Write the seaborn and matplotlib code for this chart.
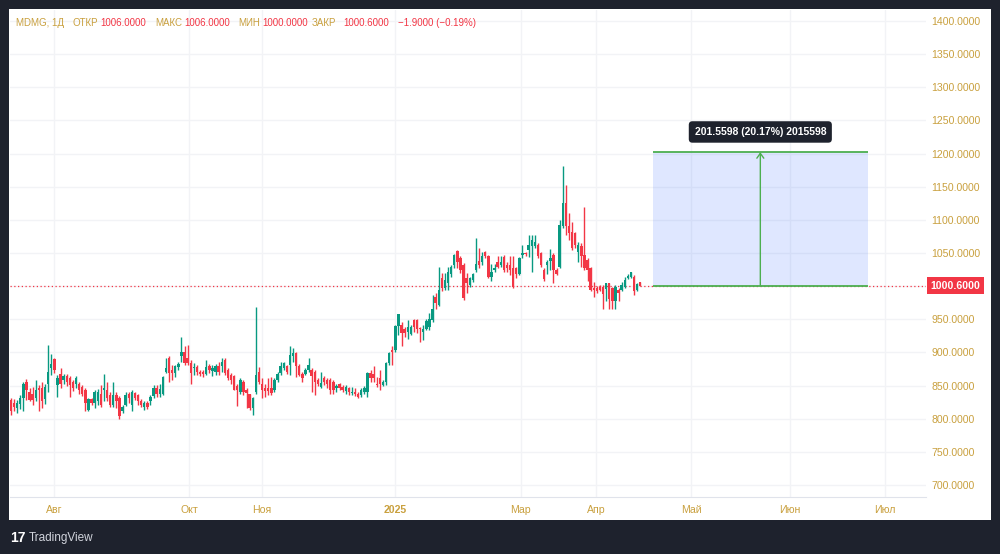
#-*- coding:utf-8 -*-

import seaborn as sns
import matplotlib.pyplot as plt
import matplotlib.ticker as ticker
from matplotlib.patches import Rectangle
import numpy as np
import pandas as pd


# daily candles MDMG (oldest first)
opens = [
    828, 823, 816, 822, 831, 856, 841, 838, 831, 846, 846, 829, 853, 876, 890, 851, 867, 859, 865, 861,
    856, 852, 852, 848, 843, 813, 829, 823, 826, 837, 843, 843, 836, 821, 836, 831, 811, 821, 838, 821,
    839, 836, 826, 817, 824, 826, 834, 847, 838, 838, 871, 891, 874, 869, 878, 894, 901, 891, 884, 876,
    878, 870, 870, 868, 879, 872, 871, 879, 879, 889, 874, 866, 864, 849, 841, 856, 844, 837, 816, 841,
    871, 853, 847, 846, 846, 844, 859, 869, 876, 879, 881, 894, 899, 879, 868, 868, 873, 873, 871, 858,
    848, 861, 859, 858, 856, 846, 852, 848, 842, 846, 839, 841, 838, 836, 841, 841, 869, 868, 853, 861,
    851, 856, 884, 904, 904, 940, 941, 936, 931, 928, 949, 949, 937, 931, 936, 938, 949, 984,
    972, 1012, 997, 1004, 1019, 1032, 1053, 1043, 1032, 1012, 1002, 1009, 1024, 1038, 1036, 1051, 1046, 1014,
    1024, 1037, 1032, 1044, 1032, 1032, 1027, 1027, 1019, 1047, 1050, 1055, 1060, 1060, 1062,
    1050, 1024, 1032, 1038, 1047, 1024, 1029, 1090, 1126, 1090, 1082, 1080, 1052, 1060, 1047, 1039, 1027,
    997, 997, 999, 999, 996, 1004, 997, 977, 994, 994, 999, 1012, 1014, 1014, 994, 1006,
]
highs = [
    831, 830, 828, 836, 856, 860, 846, 848, 858, 851, 856, 852, 911, 898, 891, 866, 876, 868, 868, 864,
    858, 864, 856, 851, 846, 832, 832, 844, 845, 851, 868, 856, 841, 856, 840, 834, 821, 840, 841, 843,
    841, 838, 829, 826, 826, 836, 851, 851, 853, 864, 891, 894, 881, 881, 886, 923, 909, 911, 889, 884,
    881, 874, 873, 888, 883, 881, 882, 886, 891, 891, 876, 869, 866, 853, 861, 859, 846, 838, 833, 969,
    878, 861, 853, 861, 863, 861, 871, 886, 886, 881, 909, 906, 900, 883, 871, 876, 891, 876, 873, 861,
    871, 864, 861, 861, 859, 853, 854, 851, 851, 848, 848, 846, 841, 847, 850, 871, 873, 879, 863, 874,
    859, 886, 901, 909, 942, 958, 946, 939, 949, 941, 950, 951, 939, 941, 951, 959, 987, 989,
    1029, 1020, 1020, 1029, 1032, 1048, 1055, 1045, 1035, 1020, 1014, 1020, 1072, 1057, 1051, 1053, 1047, 1034,
    1034, 1045, 1045, 1047, 1036, 1045, 1045, 1029, 1044, 1062, 1052, 1077, 1077, 1077, 1065,
    1052, 1027, 1039, 1056, 1050, 1027, 1100, 1181, 1153, 1110, 1097, 1081, 1066, 1065, 1120, 1042, 1029,
    1007, 1000, 1002, 1002, 1005, 1004, 999, 1002, 997, 1007, 1014, 1019, 1021, 1017, 1004, 1006,
]
lows = [
    806, 812, 808, 815, 811, 828, 826, 821, 826, 811, 816, 822, 841, 866, 869, 833, 846, 852, 850, 833,
    842, 846, 838, 834, 811, 811, 820, 816, 820, 818, 826, 826, 818, 818, 816, 800, 809, 819, 823, 811,
    828, 820, 818, 813, 814, 821, 831, 833, 833, 836, 869, 856, 858, 863, 874, 886, 881, 881, 853, 866,
    866, 864, 863, 866, 869, 864, 866, 866, 871, 866, 858, 853, 843, 819, 838, 836, 816, 813, 806, 838,
    853, 831, 833, 836, 836, 841, 856, 866, 873, 868, 866, 886, 863, 864, 856, 866, 871, 841, 836, 849,
    846, 851, 846, 838, 838, 841, 843, 840, 838, 836, 836, 834, 831, 833, 838, 833, 856, 856, 848, 843,
    849, 851, 881, 881, 901, 926, 909, 924, 921, 926, 931, 930, 916, 919, 934, 934, 946, 966,
    970, 992, 994, 994, 1014, 1027, 1027, 1020, 979, 990, 999, 1007, 1022, 1027, 1032, 1042, 1012, 1008,
    1022, 1027, 1029, 1022, 1022, 1017, 997, 1012, 1017, 1042, 1045, 1044, 1022, 1057, 1042,
    1029, 1008, 1019, 1024, 1004, 1017, 1027, 1087, 1077, 1070, 1055, 1057, 1037, 1029, 1024, 1008, 992,
    984, 989, 992, 966, 977, 966, 966, 966, 977, 992, 997, 1011, 1012, 987, 992, 1000,
]
closes = [
    812, 818, 823, 831, 853, 844, 828, 828, 843, 844, 826, 848, 871, 883, 873, 861, 853, 864, 856, 851,
    847, 862, 843, 838, 823, 829, 823, 840, 841, 821, 847, 831, 820, 836, 826, 804, 817, 836, 831, 841,
    831, 826, 821, 824, 817, 833, 847, 838, 845, 863, 877, 869, 869, 879, 883, 901, 884, 884, 869, 878,
    871, 868, 868, 878, 873, 876, 879, 871, 886, 869, 861, 858, 844, 844, 858, 841, 839, 816, 831, 866,
    856, 843, 842, 842, 839, 859, 868, 879, 884, 871, 896, 899, 879, 866, 861, 873, 881, 864, 856, 853,
    854, 856, 853, 843, 843, 849, 846, 843, 848, 840, 841, 837, 833, 843, 846, 869, 862, 861, 851, 853,
    856, 884, 899, 901, 940, 958, 929, 929, 938, 938, 938, 936, 935, 936, 948, 951, 966, 974,
    994, 997, 1009, 1022, 1029, 1047, 1037, 1024, 982, 1004, 1012, 1018, 1033, 1032, 1046, 1046, 1014, 1022,
    1027, 1029, 1037, 1024, 1027, 1024, 999, 1019, 1042, 1050, 1048, 1062, 1070, 1067, 1045,
    1032, 1011, 1037, 1043, 1024, 1019, 1093, 1126, 1090, 1080, 1057, 1062, 1062, 1045, 1027, 1024, 994,
    994, 992, 994, 988, 1004, 981, 977, 999, 989, 1002, 1009, 1016, 1021, 992, 1002.5, 1000.6,
]

# x axis: bar index of each month start, future part continues in calendar days
month_labels = ['Авг', 'Окт', 'Ноя', '2025', 'Мар', 'Апр', 'Май', 'Июн', 'Июл']
month_bars = [13.9, 57.4, 81.0, 123.9, 164.5, 188.7, 219.4, 251.3, 281.9]
price_ticks = list(range(700, 1401, 50))

# price range ruler
measure_from, measure_to = 207.0, 276.5
measure_low, measure_high = 1000.6, 1202.16
measure_text = '201.5598 (20.17%) 2015598'

GREEN = '#089981'
RED = '#f23645'
GOLD = '#c9a03e'
FRAME = '#1e222d'
GRID = '#f2f3f6'

df = pd.DataFrame({'open': opens, 'high': highs, 'low': lows, 'close': closes})
df['bar'] = np.arange(len(df))
df['color'] = np.where(df['close'] >= df['open'], GREEN, RED)

sns.set_style("white")
plt.rcParams['font.family'] = ['Liberation Sans', 'DejaVu Sans']

W, H = 1000, 554
fig = plt.figure(figsize=(W / 100, H / 100), dpi=100, facecolor=FRAME)
fig.patches.append(Rectangle((9 / W, 1 - 520 / H), 982 / W, 511 / H, transform=fig.transFigure,
                             facecolor='white', edgecolor='none', zorder=-5))

ax = fig.add_axes([10 / W, 1 - 497 / H, 916 / W, 487 / H])
ax.set_facecolor('white')
ax.set_xlim(-0.32, 295.2)
ax.set_ylim(681.9, 1416.6)

# grid
ax.set_xticks(month_bars)
ax.set_xticklabels(month_labels)
ax.set_yticks(price_ticks)
ax.yaxis.set_major_formatter(ticker.FuncFormatter(lambda v, p: '{:.4f}'.format(v)))
ax.grid(True, color=GRID, lw=1)
ax.set_axisbelow(True)
ax.yaxis.tick_right()
ax.tick_params(axis='y', length=0, pad=4, labelsize=7.6, labelcolor=GOLD)
ax.tick_params(axis='x', length=0, pad=6, labelsize=7.6, labelcolor=GOLD)
ax.get_xticklabels()[3].set_fontweight('bold')
for s in ['top', 'right', 'left']:
    ax.spines[s].set_visible(False)
ax.spines['bottom'].set_color('#e0e3eb')

# candles
ax.vlines(df['bar'], df['low'], df['high'], colors=df['color'], lw=1.0, zorder=3)
body_low = df[['open', 'close']].min(axis=1)
body_h = (df['close'] - df['open']).abs().clip(lower=1.5)
ax.bar(df['bar'], body_h, bottom=body_low, width=0.78, color=df['color'], lw=0, zorder=4)

# last price line + label
last = closes[-1]
ax.axhline(last, color=RED, lw=0.9, ls=(0, (1, 2)), zorder=2)
ax.text(1.0320, last, '{:.4f}'.format(last), transform=ax.get_yaxis_transform(), ha='center', va='center',
        color='white', fontsize=7.6, fontweight='bold', clip_on=False, zorder=10,
        bbox=dict(boxstyle='square,pad=0.32', fc=RED, ec='none'))

# price range ruler
ax.add_patch(Rectangle((measure_from, measure_low), measure_to - measure_from, measure_high - measure_low,
                       facecolor='#2962ff', alpha=0.15, lw=0, zorder=5))
ax.hlines([measure_low, measure_high], measure_from, measure_to, color='#4caf50', lw=1.3, zorder=6)
mid = (measure_from + measure_to) / 2
ax.annotate('', xy=(mid, measure_high), xytext=(mid, measure_low),
            arrowprops=dict(arrowstyle='->,head_length=0.35,head_width=0.25', color='#4caf50', lw=1.0,
                            shrinkA=0, shrinkB=0), zorder=6)
ax.text(mid, 1232.6, measure_text, ha='center', va='center', color='white', fontsize=7.5,
        fontweight='bold', zorder=10,
        bbox=dict(boxstyle='round,pad=0.55,rounding_size=0.35', fc=FRAME, ec='none'))

# header legend
prev = closes[-2]
chg = last - prev
legend = [
    ('MDMG, 1Д', 16, GOLD), ('ОТКР', 72.7, GOLD), ('{:.4f}'.format(opens[-1]), 100, RED),
    ('МАКС', 155, GOLD), ('{:.4f}'.format(highs[-1]), 184.3, RED),
    ('МИН', 238.3, GOLD), ('{:.4f}'.format(lows[-1]), 262.3, RED),
    ('ЗАКР', 311.5, GOLD), ('{:.4f}'.format(last), 343.3, RED),
    ('{:.4f} ({:.2f}%)'.format(chg, chg / prev * 100).replace('-', '−'), 398.3, RED),
]
for txt, xp, col in legend:
    fig.text(xp / W, 1 - 22.5 / H, txt, color=col, fontsize=7.0, ha='left', va='center')

# branding
fig.text(10 / W, 1 - 538 / H, '17', color='white', fontsize=10, fontweight='bold', ha='left', va='center')
fig.text(29 / W, 1 - 538 / H, 'TradingView', color='#d1d4dc', fontsize=8.5, ha='left', va='center')

plt.savefig('out.png', dpi=100, facecolor=FRAME)
